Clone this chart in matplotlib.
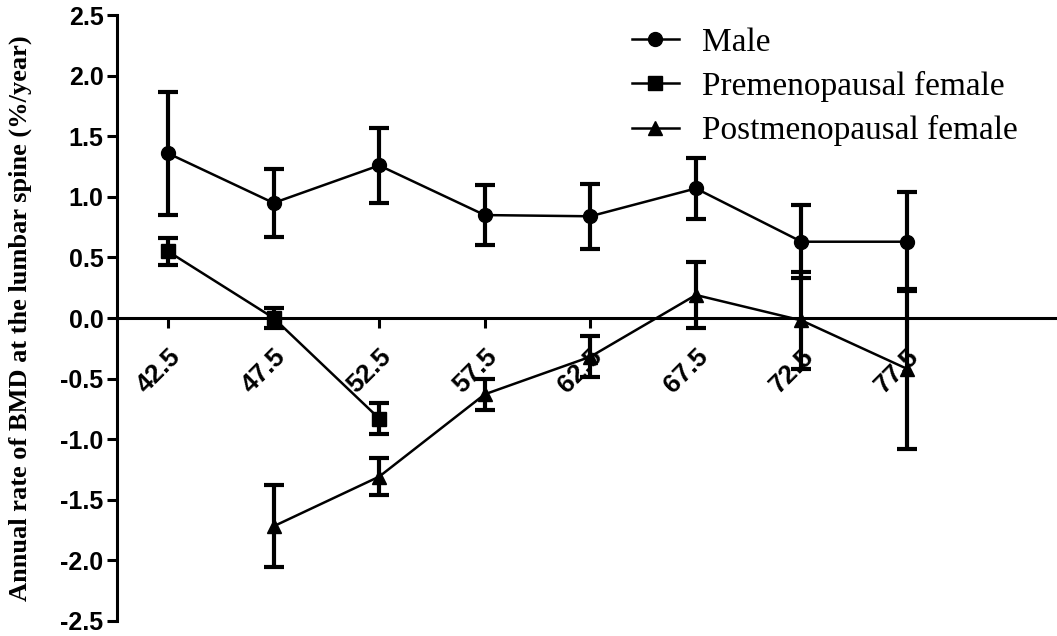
import matplotlib.pyplot as plt
import numpy as np

ages = [42.5, 47.5, 52.5, 57.5, 62.5, 67.5, 72.5, 77.5]

male = [1.36, 0.95, 1.26, 0.85, 0.84, 1.07, 0.63, 0.63]
male_err = [0.51, 0.28, 0.31, 0.25, 0.27, 0.25, 0.30, 0.41]

pre_ages = [42.5, 47.5, 52.5]
pre = [0.55, 0.0, -0.83]
pre_err = [0.11, 0.08, 0.13]

post_ages = [47.5, 52.5, 57.5, 62.5, 67.5, 72.5, 77.5]
post = [-1.72, -1.31, -0.63, -0.32, 0.19, -0.02, -0.42]
post_err = [0.34, 0.15, 0.13, 0.17, 0.27, 0.40, 0.66]

fig = plt.figure(figsize=(10.57, 6.36), dpi=100)
ax = fig.add_axes([0.111, 0.024, 0.889, 0.952])

# axis at y = 0 first, since set_position resets the ticks
ax.spines['top'].set_visible(False)
ax.spines['right'].set_visible(False)
ax.spines['bottom'].set_position(('data', 0))
ax.spines['left'].set_linewidth(2.2)
ax.spines['bottom'].set_linewidth(2.2)

common = dict(color='black', lw=1.8, ms=10, elinewidth=3, capsize=7, capthick=3)
m = ax.errorbar(ages, male, yerr=male_err, fmt='-o', **common)
p = ax.errorbar(pre_ages, pre, yerr=pre_err, fmt='-s', **common)
q = ax.errorbar(post_ages, post, yerr=post_err, fmt='-^', **common)

ax.set_xlim(40.1, 84.6)
ax.set_ylim(-2.5, 2.5)
yt = np.arange(-2.5, 2.51, 0.5)
ax.set_yticks(yt)
ax.set_yticklabels(['%.1f' % v for v in yt], fontfamily='Liberation Sans',
                   fontweight='bold', fontsize=18)
ax.set_xticks(ages)
ax.set_xticklabels([str(a) for a in ages], rotation=45, ha='right', va='top',
                   rotation_mode='anchor', fontfamily='Liberation Sans',
                   fontweight='bold', fontsize=19)

ax.tick_params(axis='both', direction='out', length=7, width=2.2)
ax.tick_params(axis='x', pad=12)
ax.tick_params(axis='y', pad=3)

ax.set_ylabel('Annual rate of BMD at the lumbar spine (%/year)',
              fontfamily='Liberation Serif', fontweight='bold', fontsize=19, labelpad=20)

ax.legend([m[0], p[0], q[0]],
          ['Male', 'Premenopausal female', 'Postmenopausal female'],
          loc='upper right', bbox_to_anchor=(0.99, 1.03), frameon=False,
          prop={'family': 'Liberation Serif', 'size': 24},
          handlelength=1.4, handletextpad=0.7, labelspacing=0.4)

fig.savefig('out.png', dpi=100)
